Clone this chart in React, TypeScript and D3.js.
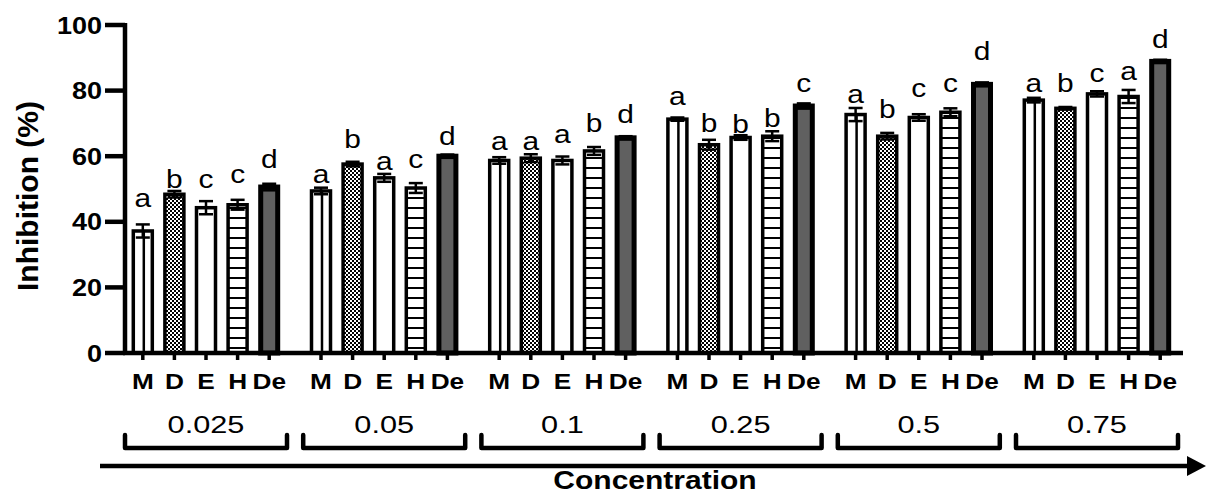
import React from "react";
import * as d3 from "d3";

const concentrations = ["0.025", "0.05", "0.1", "0.25", "0.5", "0.75"];
const extracts = ["M", "D", "E", "H", "De"];

// mean inhibition (%) per concentration, order M, D, E, H, De
const meanValues = [
  [37.2, 48.4, 44.3, 45.2, 50.6],
  [49.4, 57.6, 53.4, 50.3, 60.0],
  [58.7, 59.4, 58.7, 61.6, 65.6],
  [71.3, 63.5, 65.7, 66.1, 75.3],
  [72.7, 66.1, 71.8, 73.4, 81.9],
  [77.1, 74.6, 79.0, 78.2, 88.9],
];
const errorValues = [
  [2.0, 1.0, 2.0, 1.5, 1.0],
  [1.0, 0.7, 1.2, 1.5, 0.5],
  [1.0, 1.2, 1.2, 1.2, 0.5],
  [0.5, 1.5, 0.7, 1.5, 0.8],
  [2.0, 1.0, 1.0, 1.2, 0.6],
  [0.7, 0.4, 0.8, 2.0, 0.5],
];
const letters = [
  ["a", "b", "c", "c", "d"],
  ["a", "b", "a", "c", "d"],
  ["a", "a", "a", "b", "d"],
  ["a", "b", "b", "b", "c"],
  ["a", "b", "c", "c", "d"],
  ["a", "b", "c", "a", "d"],
];
// height (in %) of each letter's baseline
const letterLevels = [
  [44.5, 50.3, 50.3, 51.8, 56.4],
  [51.8, 62.5, 55.8, 56.4, 63.4],
  [61.9, 61.9, 64.0, 67.4, 70.1],
  [75.6, 67.4, 67.1, 68.9, 79.6],
  [76.2, 71.6, 78.0, 79.6, 89.3],
  [79.6, 79.6, 82.6, 83.2, 93.0],
];
const yTicks = [0, 20, 40, 60, 80, 100];

const FONT = "'Liberation Sans', Arial, Helvetica, sans-serif";
const SX = 1.15;

function T({ x, y, size, bold, anchor, children, sx = SX }: any) {
  return (
    <text
      transform={`translate(${x},${y}) scale(${sx},1)`}
      fontSize={size}
      fontWeight={bold ? "bold" : "normal"}
      fontFamily={FONT}
      textAnchor={anchor || "middle"}
      fill="#000"
    >
      {children}
    </text>
  );
}

export default function App() {
  const W = 1206;
  const H = 500;
  const axisX = 125;
  const axisRight = 1183;
  const y = d3.scaleLinear().domain([0, 100]).range([353, 25]);
  const gx = d3.scalePoint<string>().domain(concentrations).range([206, 1097]);
  const ix = d3.scalePoint<string>().domain(extracts).range([-63.2, 63.2]);
  const barW = 19;

  const fillFor = (e: string) =>
    e === "D" ? "url(#checker)" : e === "H" ? "url(#hstripe)" : e === "De" ? "#606060" : "#fff";

  return (
    <svg width={W} height={H} style={{ position: "absolute", left: 0, top: 0, background: "#fff" }}>
      <defs>
        <pattern id="checker" width="4" height="4" patternUnits="userSpaceOnUse">
          <rect width="4" height="4" fill="#fff" />
          <rect width="2" height="2" fill="#000" />
          <rect x="2" y="2" width="2" height="2" fill="#000" />
        </pattern>
        <pattern id="hstripe" width="10" height="10" patternUnits="userSpaceOnUse" y={y(0)}>
          <rect width="10" height="10" fill="#fff" />
          <rect y="4" width="10" height="2" fill="#000" />
        </pattern>
      </defs>

      {/* bars */}
      {concentrations.map((c, gi) =>
        extracts.map((e, ei) => {
          const cx = (gx(c) as number) + (ix(e) as number);
          const v = meanValues[gi][ei];
          const err = errorValues[gi][ei];
          const isDe = e === "De";
          const w = isDe ? 17 : barW;
          return (
            <g key={`${gi}-${ei}`}>
              <rect
                x={cx - w / 2}
                y={y(v)}
                width={w}
                height={y(0) - y(v)}
                fill={fillFor(e)}
                stroke="#000"
                strokeWidth={isDe ? 5 : 3.5}
              />
              {e === "M" && (
                <line x1={cx + 1} x2={cx + 1} y1={y(v)} y2={y(0)} stroke="#000" strokeWidth={2.5} />
              )}
              <g stroke="#000" strokeWidth={2.5}>
                <line x1={cx} x2={cx} y1={y(v + err)} y2={y(v - err)} />
                <line x1={cx - 7} x2={cx + 7} y1={y(v + err)} y2={y(v + err)} />
                <line x1={cx - 7} x2={cx + 7} y1={y(v - err)} y2={y(v - err)} />
              </g>
              <T x={cx} y={y(letterLevels[gi][ei])} size={26}>
                {letters[gi][ei]}
              </T>
            </g>
          );
        })
      )}

      {/* y axis */}
      <line x1={axisX} x2={axisX} y1={y(100) - 2} y2={y(0) + 2} stroke="#000" strokeWidth={4.5} />
      {yTicks.map((t) => (
        <g key={t}>
          <line x1={axisX - 20} x2={axisX} y1={y(t)} y2={y(t)} stroke="#000" strokeWidth={4.5} />
          <T x={102} y={y(t) + 8.5} size={23.5} bold anchor="end">
            {t}
          </T>
        </g>
      ))}
      <text
        transform={`translate(38,196) rotate(-90)`}
        fontSize={30}
        fontWeight="bold"
        fontFamily={FONT}
        textAnchor="middle"
      >
        Inhibition (%)
      </text>

      {/* x axis */}
      <line x1={axisX - 2} x2={axisRight} y1={y(0)} y2={y(0)} stroke="#000" strokeWidth={4.5} />
      {concentrations.map((c) =>
        extracts.map((e) => {
          const cx = (gx(c) as number) + (ix(e) as number);
          return (
            <g key={`t-${c}-${e}`}>
              <line x1={cx} x2={cx} y1={y(0)} y2={y(0) + 7} stroke="#000" strokeWidth={3.5} />
              <T x={cx} y={389} size={21.5} bold sx={1.22}>
                {e}
              </T>
            </g>
          );
        })
      )}

      {/* group labels + brackets */}
      {concentrations.map((c) => {
        const cx = gx(c) as number;
        const half = 81;
        return (
          <g key={`g-${c}`}>
            <T x={cx} y={433} size={24} sx={1.28}>
              {c}
            </T>
            <path
              d={`M${cx - half},435 V448 H${cx + half} V435`}
              fill="none"
              stroke="#000"
              strokeWidth={4.5}
              strokeLinejoin="round"
              strokeLinecap="round"
            />
          </g>
        );
      })}

      {/* arrow */}
      <line x1={100} x2={1190} y1={466} y2={466} stroke="#000" strokeWidth={4.5} />
      <path d="M1187,456 L1206,466 L1187,476 Z" fill="#000" />
      <T x={655} y={489} size={25} bold sx={1.2}>
        Concentration
      </T>
    </svg>
  );
}
